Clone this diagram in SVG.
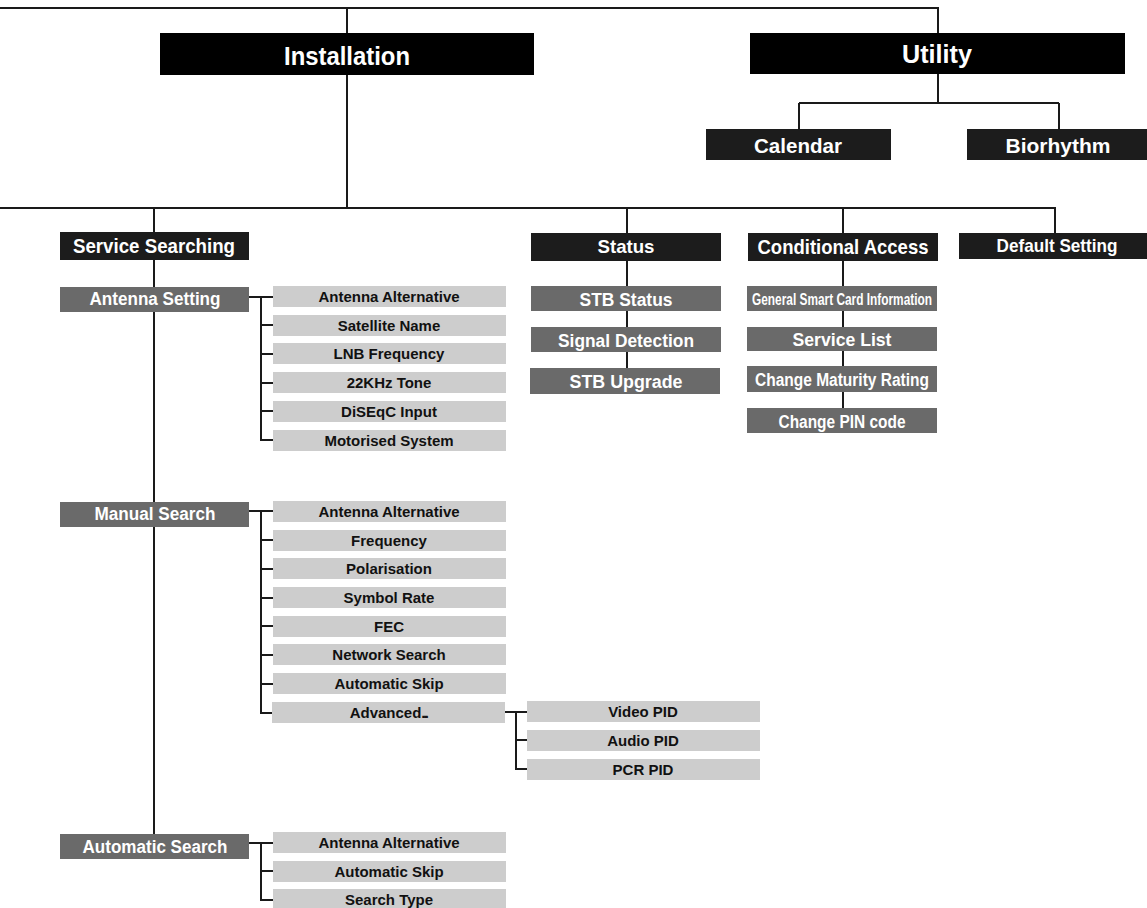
<svg xmlns="http://www.w3.org/2000/svg" width="1147" height="908" viewBox="0 0 1147 908">
<style>
.top{fill:#000}
.dk{fill:#1c1c1c}
.md{fill:#6a6a6a}
.lt{fill:#cdcdcd}
text{font-family:"Liberation Sans",Arial,sans-serif;font-weight:bold;text-anchor:middle}
.w{fill:#fff}
.b{fill:#111;font-size:15px}
.c{fill:none;stroke:#1a1a1a;stroke-width:2}
</style>
<rect width="1147" height="908" fill="#fff"/>
<g id="connectors" class="c">
<path d="M0,8 H938 V33 M347,8 V33 M347,75 V208 M0,208 H1055 V233 M154,208 V834 M627,208 V233 M843,208 V233"/>
<path d="M938,74 V103 M799,103 H1059 M799,103 V129 M1059,103 V129"/>
<path d="M627,261 V368 M843,261 V408"/>
<path d="M249,297 H273 M261,297 V440 H273 M261,325 H273 M261,354 H273 M261,383 H273 M261,411 H273"/>
<path d="M249,511 H273 M261,511 V713 H273 M261,540 H273 M261,569 H273 M261,598 H273 M261,626 H273 M261,655 H273 M261,684 H273"/>
<path d="M505,712 H527 M516,712 V769 H527 M516,740 H527"/>
<path d="M249,843 H273 M261,843 V900 H273 M261,871 H273"/>
</g>
<g id="installation"><rect class="top" x="160" y="33" width="374" height="42"/><text class="w" x="347" y="65" font-size="26" textLength="126" lengthAdjust="spacingAndGlyphs">Installation</text></g>
<g id="utility"><rect class="top" x="750" y="33" width="375" height="41"/><text class="w" x="937" y="63" font-size="26" textLength="70" lengthAdjust="spacingAndGlyphs">Utility</text></g>
<g id="calendar"><rect class="dk" x="706" y="129" width="185" height="31"/><text class="w" x="798" y="153" font-size="21" textLength="88" lengthAdjust="spacingAndGlyphs">Calendar</text></g>
<g id="biorhythm"><rect class="dk" x="967" y="129" width="180" height="31"/><text class="w" x="1058" y="153" font-size="21" textLength="105" lengthAdjust="spacingAndGlyphs">Biorhythm</text></g>
<g id="service-searching"><rect class="dk" x="60" y="232" width="189" height="28"/><text class="w" x="154" y="253" font-size="20" textLength="162" lengthAdjust="spacingAndGlyphs">Service Searching</text></g>
<g id="status"><rect class="dk" x="531" y="233" width="190" height="28"/><text class="w" x="626" y="253" font-size="19" textLength="57" lengthAdjust="spacingAndGlyphs">Status</text></g>
<g id="conditional-access"><rect class="dk" x="748" y="233" width="190" height="28"/><text class="w" x="843" y="254" font-size="21" textLength="171" lengthAdjust="spacingAndGlyphs">Conditional Access</text></g>
<g id="default-setting"><rect class="dk" x="959" y="233" width="188" height="26"/><text class="w" x="1057" y="252" font-size="19" textLength="121" lengthAdjust="spacingAndGlyphs">Default Setting</text></g>
<g id="stb-status"><rect class="md" x="531" y="286" width="190" height="25"/><text class="w" x="626" y="306" font-size="18" textLength="93" lengthAdjust="spacingAndGlyphs">STB Status</text></g>
<g id="signal-detection"><rect class="md" x="531" y="327" width="190" height="25"/><text class="w" x="626" y="347" font-size="18" textLength="136" lengthAdjust="spacingAndGlyphs">Signal Detection</text></g>
<g id="stb-upgrade"><rect class="md" x="530" y="368" width="190" height="26"/><text class="w" x="626" y="388" font-size="18" textLength="113" lengthAdjust="spacingAndGlyphs">STB Upgrade</text></g>
<g id="smart-card"><rect class="md" x="747" y="286" width="190" height="25"/><text class="w" x="842" y="305" font-size="16" textLength="180" lengthAdjust="spacingAndGlyphs">General Smart Card Information</text></g>
<g id="service-list"><rect class="md" x="747" y="327" width="190" height="24"/><text class="w" x="842" y="346" font-size="18" textLength="99" lengthAdjust="spacingAndGlyphs">Service List</text></g>
<g id="maturity"><rect class="md" x="747" y="366" width="190" height="26"/><text class="w" x="842" y="386" font-size="18" textLength="174" lengthAdjust="spacingAndGlyphs">Change Maturity Rating</text></g>
<g id="pin"><rect class="md" x="747" y="408" width="190" height="25"/><text class="w" x="842" y="428" font-size="18" textLength="127" lengthAdjust="spacingAndGlyphs">Change PIN code</text></g>
<g id="antenna-setting"><rect class="md" x="60" y="287" width="189" height="25"/><text class="w" x="155" y="305" font-size="18" textLength="131" lengthAdjust="spacingAndGlyphs">Antenna Setting</text></g>
<g id="as-1"><rect class="lt" x="273" y="286" width="233" height="21"/><text class="b" x="389" y="302">Antenna Alternative</text></g>
<g id="as-2"><rect class="lt" x="273" y="315" width="233" height="21"/><text class="b" x="389" y="331">Satellite Name</text></g>
<g id="as-3"><rect class="lt" x="273" y="343" width="233" height="21"/><text class="b" x="389" y="359">LNB Frequency</text></g>
<g id="as-4"><rect class="lt" x="273" y="372" width="233" height="21"/><text class="b" x="389" y="388">22KHz Tone</text></g>
<g id="as-5"><rect class="lt" x="273" y="401" width="233" height="21"/><text class="b" x="389" y="417">DiSEqC Input</text></g>
<g id="as-6"><rect class="lt" x="273" y="430" width="233" height="21"/><text class="b" x="389" y="446">Motorised System</text></g>
<g id="manual-search"><rect class="md" x="60" y="502" width="189" height="25"/><text class="w" x="155" y="520" font-size="18" textLength="121" lengthAdjust="spacingAndGlyphs">Manual Search</text></g>
<g id="ms-1"><rect class="lt" x="273" y="501" width="233" height="21"/><text class="b" x="389" y="517">Antenna Alternative</text></g>
<g id="ms-2"><rect class="lt" x="273" y="530" width="233" height="21"/><text class="b" x="389" y="546">Frequency</text></g>
<g id="ms-3"><rect class="lt" x="273" y="558" width="233" height="21"/><text class="b" x="389" y="574">Polarisation</text></g>
<g id="ms-4"><rect class="lt" x="273" y="587" width="233" height="21"/><text class="b" x="389" y="603">Symbol Rate</text></g>
<g id="ms-5"><rect class="lt" x="273" y="616" width="233" height="21"/><text class="b" x="389" y="632">FEC</text></g>
<g id="ms-6"><rect class="lt" x="273" y="644" width="233" height="21"/><text class="b" x="389" y="660">Network Search</text></g>
<g id="ms-7"><rect class="lt" x="273" y="673" width="233" height="21"/><text class="b" x="389" y="689">Automatic Skip</text></g>
<g id="ms-8"><rect class="lt" x="272" y="702" width="233" height="21"/><text class="b" x="388" y="718">Advanced<tspan letter-spacing="-2.5">...</tspan></text></g>
<g id="pid-1"><rect class="lt" x="527" y="701" width="233" height="21"/><text class="b" x="643" y="717">Video PID</text></g>
<g id="pid-2"><rect class="lt" x="527" y="730" width="233" height="21"/><text class="b" x="643" y="746">Audio PID</text></g>
<g id="pid-3"><rect class="lt" x="527" y="759" width="233" height="21"/><text class="b" x="643" y="775">PCR PID</text></g>
<g id="automatic-search"><rect class="md" x="60" y="834" width="189" height="25"/><text class="w" x="155" y="853" font-size="18" textLength="145" lengthAdjust="spacingAndGlyphs">Automatic Search</text></g>
<g id="au-1"><rect class="lt" x="273" y="832" width="233" height="21"/><text class="b" x="389" y="848">Antenna Alternative</text></g>
<g id="au-2"><rect class="lt" x="273" y="861" width="233" height="21"/><text class="b" x="389" y="877">Automatic Skip</text></g>
<g id="au-3"><rect class="lt" x="273" y="889" width="233" height="21"/><text class="b" x="389" y="905">Search Type</text></g>
</svg>
